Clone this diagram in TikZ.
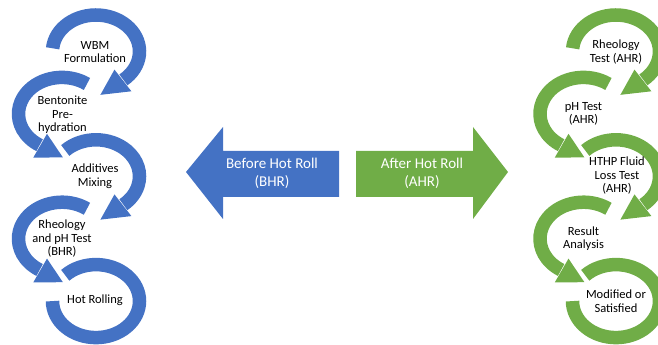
\documentclass[tikz,border=0pt]{standalone}
\usepackage{fontspec}
\setmainfont{Carlito}
\usetikzlibrary{calc}
\definecolor{oblue}{HTML}{4472C4}
\definecolor{ogreen}{HTML}{70AD47}
\newcommand\ringarrow[6]{%
  % #1 centre, #2 start, #3 arc end, #4 head base, #5 tip angle, #6 colour
  \draw[ring,#6] ($(#1)+(#2:43.5pt and 36.5pt)$) arc[start angle=#2, end angle=#3, x radius=43.5pt, y radius=36.5pt];
  \fill[#6] ($(#1)+(#4:30pt and 23pt)$) -- ($(#1)+(#4:57.5pt and 50.5pt)$) -- ($(#1)+(#5:50.5pt and 43.5pt)$) -- cycle;
}
\newcommand\ringend[4]{%
  \draw[ring,#4] ($(#1)+(#2:43.5pt and 36.5pt)$) arc[start angle=#2, end angle=#3, x radius=43.5pt, y radius=36.5pt];
}
\begin{document}
\begin{tikzpicture}[
  ring/.style={line width=13.5pt},
  steptext/.style={align=center, text=black, font=\fontsize{12.5}{13.5}\selectfont, inner sep=0pt},
  bigtext/.style={align=center, text=white, font=\fontsize{15}{18}\selectfont, inner sep=0pt}
]
\useasboundingbox (0pt,0pt) rectangle (658pt,345pt);
% centres
\coordinate (L1) at (96pt,293.5pt);
\coordinate (L2) at (62pt,231.1pt);
\coordinate (L3) at (96pt,168.7pt);
\coordinate (L4) at (62pt,106.3pt);
\coordinate (L5) at (96pt,43.9pt);
\coordinate (R1) at (616pt,293.5pt);
\coordinate (R2) at (583.5pt,231.1pt);
\coordinate (R3) at (616pt,168.7pt);
\coordinate (R4) at (583.5pt,106.3pt);
\coordinate (R5) at (616pt,43.9pt);
% left column
\ringarrow{L1}{175}{-51}{-52}{-85}{oblue}
\ringarrow{L2}{55}{239}{240}{271}{oblue}
\ringarrow{L3}{135}{-51}{-52}{-85}{oblue}
\ringarrow{L4}{55}{239}{240}{271}{oblue}
\ringend{L5}{135}{-180}{oblue}
% right column
\ringarrow{R1}{175}{-51}{-52}{-85}{ogreen}
\ringarrow{R2}{55}{239}{240}{271}{ogreen}
\ringarrow{R3}{135}{-51}{-52}{-85}{ogreen}
\ringarrow{R4}{55}{239}{240}{271}{ogreen}
\ringend{R5}{135}{-180}{ogreen}
% texts
\node[steptext] (t1) at (95pt,293pt) {WBM\\Formulation};
\node[steptext] (t2) at (62.5pt,230pt) {Bentonite\\Pre-\\hydration};
\node[steptext] (t3) at (95pt,169pt) {Additives\\Mixing};
\node[steptext] (t4) at (62pt,106pt) {Rheology\\and pH Test\\(BHR)};
\node[steptext] (t5) at (95pt,45pt) {Hot Rolling};
\node[steptext] (u1) at (616pt,293pt) {Rheology\\Test (AHR)};
\node[steptext] (u2) at (583.5pt,231pt) {pH Test\\(AHR)};
\node[steptext] (u3) at (617pt,169pt) {HTHP Fluid\\Loss Test\\(AHR)};
\node[steptext] (u4) at (583.5pt,106.5pt) {Result\\Analysis};
\node[steptext] (u5) at (616pt,44pt) {Modified or\\Satisfied};
% centre arrows
\fill[oblue] (186pt,173pt) -- (223pt,218pt) -- (223pt,194pt) -- (339pt,194pt) -- (339pt,148pt) -- (223pt,148pt) -- (223pt,126pt) -- cycle;
\fill[ogreen] (356pt,194pt) -- (473pt,194pt) -- (473pt,218pt) -- (508pt,173pt) -- (473pt,126pt) -- (473pt,148pt) -- (356pt,148pt) -- cycle;
\node[bigtext] (bhr) at (272pt,172pt) {Before Hot Roll\\(BHR)};
\node[bigtext] (ahr) at (422pt,172pt) {After Hot Roll\\(AHR)};
\end{tikzpicture}
\end{document}
